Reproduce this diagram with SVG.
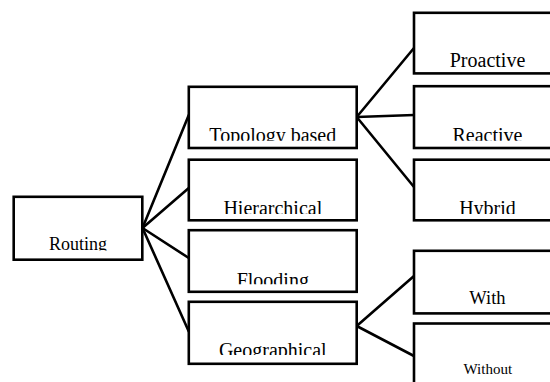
<svg xmlns="http://www.w3.org/2000/svg" width="550" height="382" viewBox="0 0 550 382">
<style>
.box{fill:#fff;stroke:#000;stroke-width:2.6}
.lbl{font-family:"Liberation Serif","Times New Roman",serif;font-size:20px;fill:#000;text-anchor:middle}
.conn line{stroke:#000;stroke-width:2.6;stroke-linecap:round}
</style>
<defs>
<clipPath id="cRouting" clipPathUnits="userSpaceOnUse"><rect x="13" y="196" width="130" height="54.5"/></clipPath>
<clipPath id="cTopology" clipPathUnits="userSpaceOnUse"><rect x="188" y="86" width="170" height="54.7"/></clipPath>
<clipPath id="cHier" clipPathUnits="userSpaceOnUse"><rect x="188" y="159" width="170" height="55"/></clipPath>
<clipPath id="cFlood" clipPathUnits="userSpaceOnUse"><rect x="188" y="230" width="170" height="54.3"/></clipPath>
<clipPath id="cGeo" clipPathUnits="userSpaceOnUse"><rect x="188" y="301" width="170" height="54"/></clipPath>
<clipPath id="cPro" clipPathUnits="userSpaceOnUse"><rect x="414" y="12" width="150" height="55"/></clipPath>
<clipPath id="cRea" clipPathUnits="userSpaceOnUse"><rect x="414" y="86" width="150" height="54.7"/></clipPath>
<clipPath id="cHyb" clipPathUnits="userSpaceOnUse"><rect x="414" y="159" width="150" height="55"/></clipPath>
</defs>
<g class="conn" id="connectors">
<line x1="142.5" y1="228" x2="188.8" y2="115"/>
<line x1="142.5" y1="228" x2="188.8" y2="188"/>
<line x1="142.5" y1="228" x2="188.8" y2="258"/>
<line x1="142.5" y1="228" x2="188.8" y2="331.5"/>
<line x1="356.7" y1="117" x2="414" y2="48"/>
<line x1="356.7" y1="117" x2="414" y2="115"/>
<line x1="356.7" y1="117" x2="414" y2="187"/>
<line x1="356.7" y1="326" x2="414" y2="276"/>
<line x1="356.7" y1="326" x2="414" y2="356"/>
</g>
<g id="routing">
<rect class="box" x="13.7" y="196.8" width="128.6" height="62.9"/>
<text class="lbl" x="78" y="250.2" style="font-size:18px" clip-path="url(#cRouting)">Routing</text>
</g>
<g id="topology">
<rect class="box" x="188.8" y="86.8" width="167.9" height="61.2"/>
<text class="lbl" x="272.8" y="141.5" clip-path="url(#cTopology)">Topology based</text>
</g>
<g id="hierarchical">
<rect class="box" x="188.8" y="159.7" width="167.9" height="60.6"/>
<text class="lbl" x="272.8" y="214.8" clip-path="url(#cHier)">Hierarchical</text>
</g>
<g id="flooding">
<rect class="box" x="188.8" y="230.2" width="167.9" height="61.6"/>
<text class="lbl" x="272.8" y="286.5" clip-path="url(#cFlood)">Flooding</text>
</g>
<g id="geographical">
<rect class="box" x="188.8" y="301.8" width="167.9" height="62"/>
<text class="lbl" x="272.8" y="356.5" clip-path="url(#cGeo)">Geographical</text>
</g>
<g id="proactive">
<rect class="box" x="414" y="12.8" width="147" height="60.6"/>
<text class="lbl" x="487.5" y="66.5" clip-path="url(#cPro)">Proactive</text>
</g>
<g id="reactive">
<rect class="box" x="414" y="86.2" width="147" height="61.8"/>
<text class="lbl" x="487.5" y="141.5" clip-path="url(#cRea)">Reactive</text>
</g>
<g id="hybrid">
<rect class="box" x="414" y="159.7" width="147" height="60.6"/>
<text class="lbl" x="487.5" y="214.8" clip-path="url(#cHyb)">Hybrid</text>
</g>
<g id="with">
<rect class="box" x="414" y="250.8" width="147" height="62.6"/>
<text class="lbl" x="487.5" y="303.5" style="font-size:18.5px">With</text>
</g>
<g id="without">
<rect class="box" x="414" y="323.5" width="147" height="80"/>
<text class="lbl" x="487.8" y="373.5" style="font-size:15px">Without</text>
</g>
</svg>
